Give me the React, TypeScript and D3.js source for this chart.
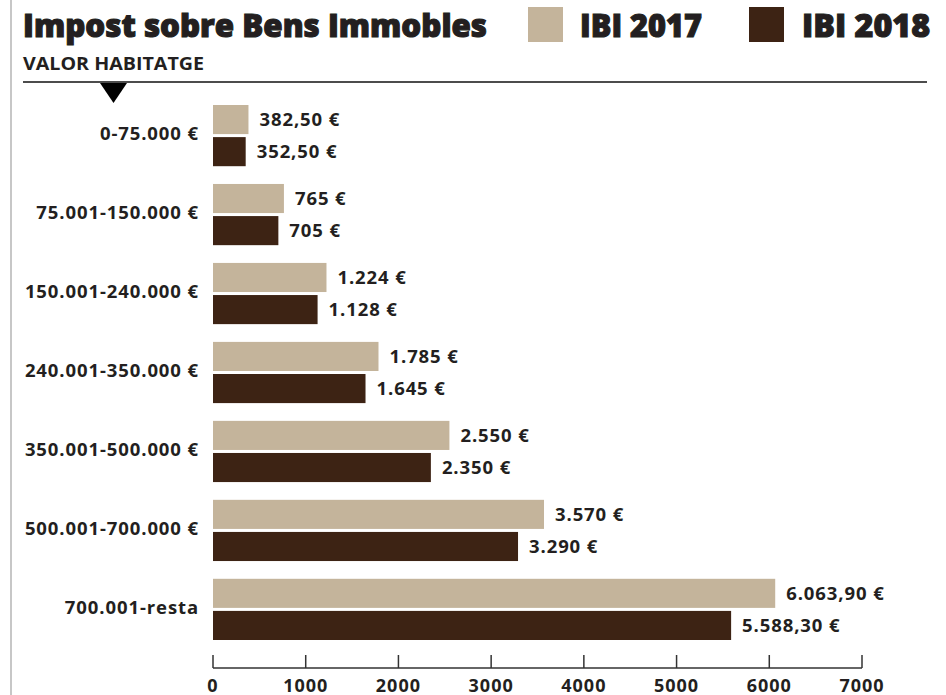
import React from "react";
import * as d3 from "d3";

const categories = [
  "0-75.000 €",
  "75.001-150.000 €",
  "150.001-240.000 €",
  "240.001-350.000 €",
  "350.001-500.000 €",
  "500.001-700.000 €",
  "700.001-resta",
];
const ibi2017 = [382.5, 765, 1224, 1785, 2550, 3570, 6063.9];
const ibi2018 = [352.5, 705, 1128, 1645, 2350, 3290, 5588.3];
const labels2017 = ["382,50 €", "765 €", "1.224 €", "1.785 €", "2.550 €", "3.570 €", "6.063,90 €"];
const labels2018 = ["352,50 €", "705 €", "1.128 €", "1.645 €", "2.350 €", "3.290 €", "5.588,30 €"];
const series = ["IBI 2017", "IBI 2018"];
const tickValues = [0, 1000, 2000, 3000, 4000, 5000, 6000, 7000];

const COLORS = ["#c4b49b", "#3d2314"];
const TEXT = "#231f20";
const FONT = "'Open Sans', 'DejaVu Sans', sans-serif";

export default function App() {
  const W = 946;
  const H = 695;
  const x = d3.scaleLinear().domain([0, 7000]).range([213, 862]);
  const y = d3.scaleBand<string>().domain(categories).range([105, 640]).paddingInner(0.225).paddingOuter(0);
  const sub = d3.scaleBand<string>().domain(series).range([0, y.bandwidth()]).paddingInner(0.094);
  const values = [ibi2017, ibi2018];
  const labels = [labels2017, labels2018];
  const axisY = 668;
  const labelStyle = { letterSpacing: "0.9px" };

  return (
    <svg
      width={W}
      height={H}
      viewBox={`0 0 ${W} ${H}`}
      style={{ position: "absolute", left: 0, top: 0, background: "#fff" }}
      fontFamily={FONT}
    >
      <rect x={0} y={0} width={W} height={H} fill="#fff" />
      <line x1={11} x2={11} y1={0} y2={H} stroke="#b4b4b4" strokeWidth={1.5} />

      {/* Title */}
      <text x={23} y={37} fontSize={31} fontWeight={800} fill={TEXT} stroke={TEXT} strokeWidth={1.1} textLength={464} lengthAdjust="spacingAndGlyphs">
        Impost sobre Bens Immobles
      </text>
      {/* Legend */}
      <rect x={528} y={7} width={35} height={35} fill={COLORS[0]} />
      <text x={580} y={37} fontSize={32} fontWeight={800} fill={TEXT} stroke={TEXT} strokeWidth={1.1} textLength={122} lengthAdjust="spacingAndGlyphs">
        {series[0]}
      </text>
      <rect x={749} y={7} width={35} height={35} fill={COLORS[1]} />
      <text x={802} y={37} fontSize={32} fontWeight={800} fill={TEXT} stroke={TEXT} strokeWidth={1.1} textLength={128} lengthAdjust="spacingAndGlyphs">
        {series[1]}
      </text>

      <text x={23} y={70} fontSize={17.5} fontWeight={700} fill={TEXT} textLength={181} lengthAdjust="spacingAndGlyphs">
        VALOR HABITATGE
      </text>
      <line x1={23} x2={927} y1={82} y2={82} stroke="#111" strokeWidth={1.6} />
      <path d="M100,83 L127,83 L113.5,103 Z" fill="#000" />

      {/* Bars */}
      {categories.map((c, i) => {
        const gy = y(c)!;
        return (
          <g key={c}>
            <text
              x={199}
              y={gy + y.bandwidth() / 2}
              dy="0.26em"
              textAnchor="end"
              fontSize={18.5}
              fontWeight={700}
              fill={TEXT}
              style={labelStyle}
            >
              {c}
            </text>
            {series.map((s, si) => {
              const v = values[si][i];
              const by = gy + sub(s)!;
              return (
                <g key={s}>
                  <rect x={x(0)} y={by} width={x(v) - x(0)} height={sub.bandwidth()} fill={COLORS[si]} />
                  <text
                    x={x(v) + 11}
                    y={by + sub.bandwidth() / 2}
                    dy="0.34em"
                    fontSize={18.5}
                    fontWeight={700}
                    fill={TEXT}
                    style={labelStyle}
                  >
                    {labels[si][i]}
                  </text>
                </g>
              );
            })}
          </g>
        );
      })}

      {/* Axis */}
      <line x1={x(0)} x2={x(7000)} y1={axisY} y2={axisY} stroke="#333" strokeWidth={1.5} />
      {tickValues.map((t) => (
        <g key={t}>
          <line x1={x(t)} x2={x(t)} y1={axisY - 13} y2={axisY} stroke="#333" strokeWidth={1.5} />
          <text x={x(t)} y={692} textAnchor="middle" fontSize={18} fontWeight={700} fill={TEXT} style={{ letterSpacing: "1px" }}>
            {t}
          </text>
        </g>
      ))}
    </svg>
  );
}
